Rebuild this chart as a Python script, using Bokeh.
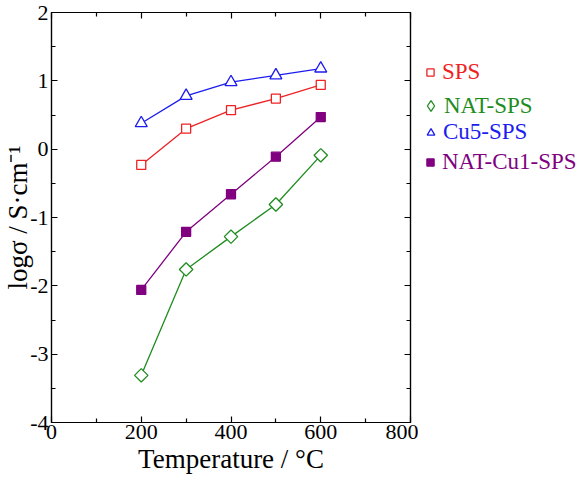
from bokeh.plotting import figure
from bokeh.layouts import row
from bokeh.models import LinearAxis, Legend, LegendItem, FixedTicker, Range1d
from bokeh.embed import file_html
from bokeh.resources import INLINE
import math

temperature = [200, 300, 400, 500, 600]
sps = [-0.23, 0.30, 0.57, 0.74, 0.94]
nat_sps = [-3.31, -1.76, -1.28, -0.81, -0.09]
cu5_sps = [0.38, 0.78, 0.98, 1.08, 1.18]
nat_cu1_sps = [-2.06, -1.21, -0.66, -0.11, 0.47]

x_ticks = [0, 200, 400, 600, 800]
y_ticks = [-4, -3, -2, -1, 0, 1, 2]
y_tick_labels = ["-4", "-3", "-2", "-1", "0", "1", "2"]

FONT = "Liberation Serif"

p = figure(frame_width=359, frame_height=410, output_backend="svg", toolbar_location=None,
           x_range=Range1d(0, 800), y_range=Range1d(-4, 2),
           min_border_left=51, min_border_right=8, min_border_top=12, min_border_bottom=60,
           x_axis_label="Temperature / °C", y_axis_label="logσ / S·cm⁻¹")
p.grid.visible = False
p.outline_line_color = "black"
p.outline_line_width = 1.2
p.background_fill_color = "white"
p.border_fill_color = "white"

def style_axis(ax, ticks, labels=True):
    step = ticks[1] - ticks[0]
    ax.ticker = FixedTicker(ticks=ticks, minor_ticks=[t + step / 2 for t in ticks[:-1]])
    ax.major_tick_in = 6
    ax.major_tick_out = 0
    ax.minor_tick_in = 4
    ax.minor_tick_out = 0
    ax.axis_line_color = "black"
    ax.axis_line_width = 1.2
    ax.major_tick_line_width = 1.2
    ax.minor_tick_line_width = 1.2
    ax.major_label_text_font = FONT
    ax.major_label_text_font_size = "22px"
    ax.major_label_text_color = "black"
    ax.axis_label_text_font = FONT
    ax.axis_label_text_font_size = "27px"
    ax.axis_label_text_font_style = "normal"
    ax.axis_label_text_color = "black"
    if not labels:
        ax.major_label_overrides = {t: "" for t in ticks}
        ax.major_label_standoff = 0

style_axis(p.xaxis[0], x_ticks)
style_axis(p.yaxis[0], y_ticks)
p.yaxis[0].major_label_overrides = {t: l for t, l in zip(y_ticks, y_tick_labels)}
p.xaxis[0].major_label_standoff = 2
p.yaxis[0].major_label_standoff = 3
p.xaxis[0].axis_label_standoff = 2
p.yaxis[0].axis_label_standoff = -6

top = LinearAxis()
style_axis(top, x_ticks, labels=False)
right = LinearAxis()
style_axis(right, y_ticks, labels=False)
p.add_layout(top, "above")
p.add_layout(right, "right")

# (name, values, colour, plot marker, angle, legend marker, filled)
series = [
    ("SPS", sps, "#ee2222", "square", 0.0, "square", False),
    ("NAT-SPS", nat_sps, "#1e8c1e", "square", math.pi / 4, "diamond", False),
    ("Cu5-SPS", cu5_sps, "#1c1cee", "triangle", 0.0, "triangle", False),
    ("NAT-Cu1-SPS", nat_cu1_sps, "#800080", "square", 0.0, "square", True),
]
plot_size = [9, 9.5, 12, 9]
legend_glyph = [18, 27, 19, 18]

# legend panel to the right of the plot (its ranges keep the series out of view; only legend glyphs show)
lp = figure(width=162, height=482, output_backend="svg", toolbar_location=None,
            x_range=Range1d(-2000, -1000), y_range=Range1d(-2000, -1000),
            x_axis_type=None, y_axis_type=None, min_border=0)
lp.grid.visible = False
lp.outline_line_color = None
lp.background_fill_color = "white"
lp.border_fill_color = "white"

legend_center = [346, 316, 286, 256]
for (name, ys, color, marker, ang, lmarker, filled), lc, sz, g in zip(series, legend_center, plot_size, legend_glyph):
    p.line(temperature, ys, line_color=color, line_width=1.3)
    p.scatter(temperature, ys, marker=marker, size=sz, angle=ang, line_color=color, line_width=1.3,
              fill_color=color if filled else "white")
    dummy = lp.scatter(temperature, ys, marker=lmarker, line_color=color, line_width=1.3,
                       fill_color=color if filled else "white")
    leg = Legend(items=[LegendItem(label=name, renderers=[dummy])],
                 location=(3 - (g - 18) // 2, lc - g // 2),
                 border_line_color=None, background_fill_alpha=0, padding=0, margin=0,
                 glyph_width=g, glyph_height=g, label_standoff=3 - (g - 18) // 2,
                 label_text_font=FONT, label_text_font_size="23px", label_text_color=color)
    lp.add_layout(leg)

layout = row(p, lp)
open("out.html", "w").write(file_html(layout, INLINE))
